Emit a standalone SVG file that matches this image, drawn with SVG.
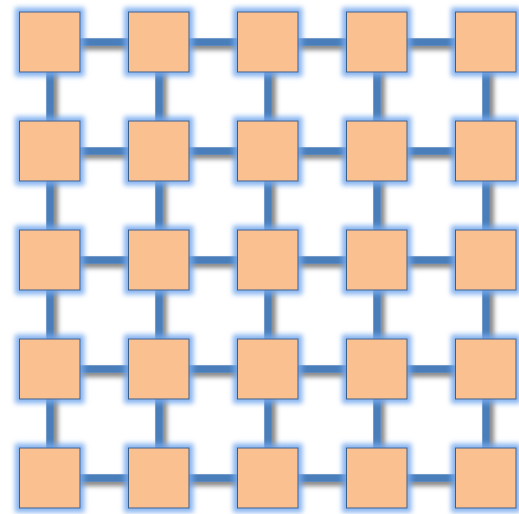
<svg xmlns="http://www.w3.org/2000/svg" width="519" height="514" viewBox="0 0 519 514">
<defs>
<filter id="shadow" x="-20%" y="-20%" width="140%" height="140%">
<feGaussianBlur in="SourceAlpha" stdDeviation="2.5" result="b"/>
<feOffset in="b" dx="3.5" dy="3.5" result="o"/>
<feFlood flood-color="#000" flood-opacity="0.5"/>
<feComposite in2="o" operator="in" result="s"/>
<feMerge><feMergeNode in="s"/><feMergeNode in="SourceGraphic"/></feMerge>
</filter>
<filter id="glow" x="-30%" y="-30%" width="160%" height="160%">
<feMorphology in="SourceAlpha" operator="dilate" radius="4" result="d"/>
<feGaussianBlur in="d" stdDeviation="2.5" result="b"/>
<feFlood flood-color="#74a8ee" flood-opacity="0.85"/>
<feComposite in2="b" operator="in" result="g"/>
<feMerge><feMergeNode in="g"/><feMergeNode in="SourceGraphic"/></feMerge>
</filter>
</defs>
<style>
.c{stroke:#4a7ebb;stroke-width:7.5;fill:none}
.n rect{fill:#fac090;stroke:#3a5f8b;stroke-width:1}
.n{filter:url(#glow)}
</style>
<g id="connectors" filter="url(#shadow)">
<path class="c" d="M50 42H486M50 151H486M50 260H486M50 369H486M50 478H486M50 42V478M159 42V478M268 42V478M377 42V478M486 42V478"/>
</g>
<g id="n00" class="n"><rect x="19.5" y="12" width="60.5" height="60"/></g>
<g id="n01" class="n"><rect x="128.5" y="12" width="60.5" height="60"/></g>
<g id="n02" class="n"><rect x="237.5" y="12" width="60.5" height="60"/></g>
<g id="n03" class="n"><rect x="346.5" y="12" width="60.5" height="60"/></g>
<g id="n04" class="n"><rect x="455.5" y="12" width="60.5" height="60"/></g>
<g id="n10" class="n"><rect x="19.5" y="121" width="60.5" height="60"/></g>
<g id="n11" class="n"><rect x="128.5" y="121" width="60.5" height="60"/></g>
<g id="n12" class="n"><rect x="237.5" y="121" width="60.5" height="60"/></g>
<g id="n13" class="n"><rect x="346.5" y="121" width="60.5" height="60"/></g>
<g id="n14" class="n"><rect x="455.5" y="121" width="60.5" height="60"/></g>
<g id="n20" class="n"><rect x="19.5" y="230" width="60.5" height="60"/></g>
<g id="n21" class="n"><rect x="128.5" y="230" width="60.5" height="60"/></g>
<g id="n22" class="n"><rect x="237.5" y="230" width="60.5" height="60"/></g>
<g id="n23" class="n"><rect x="346.5" y="230" width="60.5" height="60"/></g>
<g id="n24" class="n"><rect x="455.5" y="230" width="60.5" height="60"/></g>
<g id="n30" class="n"><rect x="19.5" y="339" width="60.5" height="60"/></g>
<g id="n31" class="n"><rect x="128.5" y="339" width="60.5" height="60"/></g>
<g id="n32" class="n"><rect x="237.5" y="339" width="60.5" height="60"/></g>
<g id="n33" class="n"><rect x="346.5" y="339" width="60.5" height="60"/></g>
<g id="n34" class="n"><rect x="455.5" y="339" width="60.5" height="60"/></g>
<g id="n40" class="n"><rect x="19.5" y="448" width="60.5" height="60"/></g>
<g id="n41" class="n"><rect x="128.5" y="448" width="60.5" height="60"/></g>
<g id="n42" class="n"><rect x="237.5" y="448" width="60.5" height="60"/></g>
<g id="n43" class="n"><rect x="346.5" y="448" width="60.5" height="60"/></g>
<g id="n44" class="n"><rect x="455.5" y="448" width="60.5" height="60"/></g>
</svg>
